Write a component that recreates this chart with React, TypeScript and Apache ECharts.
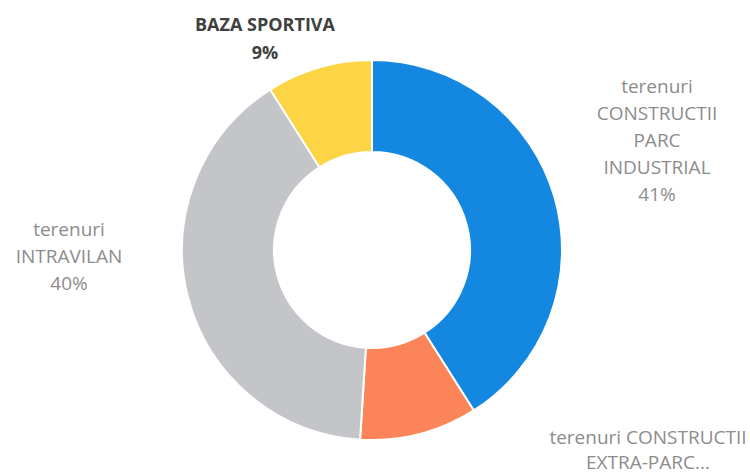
import React, { useEffect, useRef } from "react";
import * as echarts from "echarts";

const categories = [
  "terenuri CONSTRUCTII PARC INDUSTRIAL",
  "terenuri CONSTRUCTII EXTRA-PARC INDUSTRIAL",
  "terenuri INTRAVILAN",
  "BAZA SPORTIVA",
];
const values = [41, 10, 40, 9];
const labelTexts = [
  "terenuri\nCONSTRUCTII\nPARC\nINDUSTRIAL",
  "terenuri CONSTRUCTII\nEXTRA-PARC...",
  "terenuri\nINTRAVILAN",
  "BAZA SPORTIVA",
];
const showPercent = [true, false, true, true];
const colors = ["#1487E0", "#FB8559", "#C3C5C8", "#FDD443"];
const labelPos = [
  [657, 140],
  [648, 449],
  [69, 256],
  [265, 38],
];

export default function App() {
  const ref = useRef<HTMLDivElement>(null);
  useEffect(() => {
    document.body.style.margin = "0";
    if (!ref.current) return;
    const chart = echarts.init(ref.current, null, { renderer: "svg" });
    chart.setOption({
      animation: false,
      backgroundColor: "#ffffff",
      series: [
        {
          type: "pie",
          center: [372, 250],
          radius: [98, 190],
          startAngle: 90,
          clockwise: true,
          avoidLabelOverlap: false,
          itemStyle: { borderColor: "#ffffff", borderWidth: 2 },
          label: {
            show: true,
            fontFamily: "Open Sans",
            fontSize: 19,
            lineHeight: 27,
            color: "#8c8c8c",
            align: "center",
            formatter: (p: any) =>
              labelTexts[p.dataIndex] +
              (showPercent[p.dataIndex] ? "\n" + Math.round(p.percent) + "%" : ""),
          },
          labelLine: { show: false },
          labelLayout: (p: any) => ({
            x: labelPos[p.dataIndex][0],
            y: labelPos[p.dataIndex][1],
            align: "center",
            verticalAlign: "middle",
          }),
          data: categories.map((name, i) => ({
            name,
            value: values[i],
            itemStyle: { color: colors[i] },
            label:
              i === 3
                ? { fontWeight: "bold", fontSize: 18, color: "#404040", lineHeight: 28 }
                : i === 1
                ? { lineHeight: 25 }
                : undefined,
          })),
        },
      ],
    });
    return () => chart.dispose();
  }, []);
  return <div ref={ref} style={{ width: 750, height: 475 }} />;
}
